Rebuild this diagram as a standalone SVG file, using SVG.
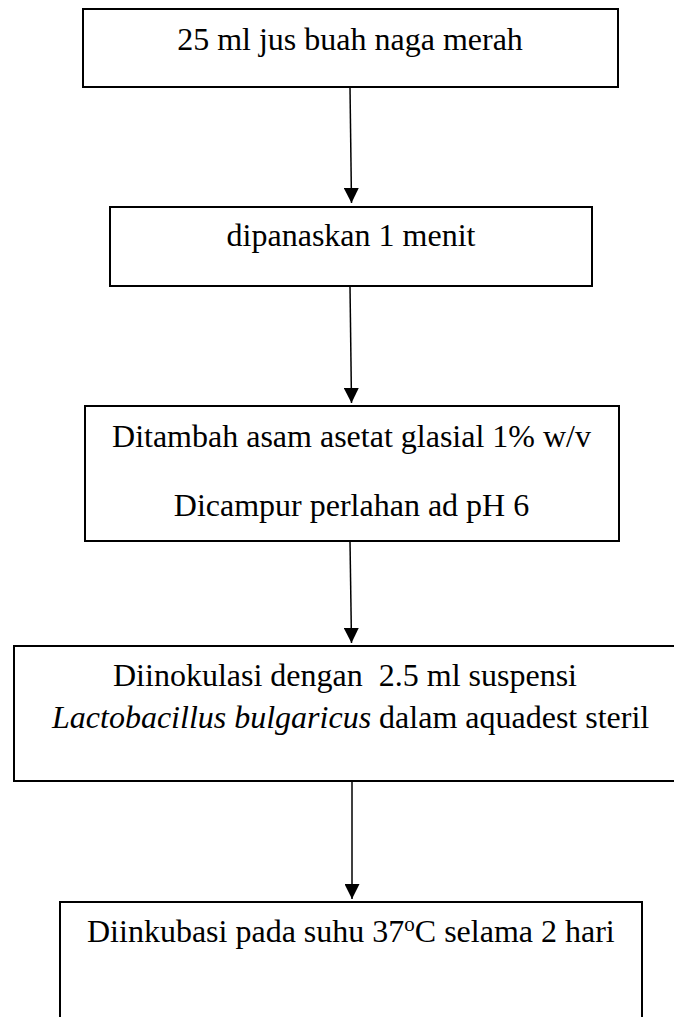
<svg xmlns="http://www.w3.org/2000/svg" width="674" height="1017" viewBox="0 0 674 1017">
<style>
.box{fill:#fff;stroke:#000;stroke-width:2}
.t{font-family:"Liberation Serif","Times New Roman",serif;font-size:32px;fill:#000}
.c{text-anchor:middle}
.con{stroke:#000;stroke-width:1.5;fill:none}
</style>
<defs>
<marker id="ah" markerWidth="16" markerHeight="15" refX="15" refY="7.5" orient="auto" markerUnits="userSpaceOnUse">
<path d="M0,0 L15,7.5 L0,15 Z" fill="#000"/>
</marker>
</defs>
<rect width="674" height="1017" fill="#fff"/>
<g id="connectors">
<line class="con" x1="350" y1="87" x2="351.5" y2="203" marker-end="url(#ah)"/>
<line class="con" x1="350" y1="286" x2="351.5" y2="403" marker-end="url(#ah)"/>
<line class="con" x1="350" y1="541" x2="351.5" y2="643" marker-end="url(#ah)"/>
<line class="con" x1="352" y1="781" x2="352" y2="899" marker-end="url(#ah)"/>
</g>
<g id="n1">
<rect class="box" x="83" y="9" width="535" height="78"/>
<text class="t c" x="350" y="50">25 ml jus buah naga merah</text>
</g>
<g id="n2">
<rect class="box" x="110" y="207" width="482" height="79"/>
<text class="t c" x="351" y="246">dipanaskan 1 menit</text>
</g>
<g id="n3">
<rect class="box" x="85" y="406" width="534" height="135"/>
<text class="t c" x="351.5" y="447">Ditambah asam asetat glasial 1% w/v</text>
<text class="t c" x="351.5" y="516">Dicampur perlahan ad pH 6</text>
</g>
<g id="n4">
<rect class="box" x="14" y="646" width="664" height="135"/>
<text class="t" x="113" y="686" xml:space="preserve">Diinokulasi dengan  2.5 ml suspensi</text>
<text class="t" x="52" y="728"><tspan font-style="italic">Lactobacillus bulgaricus</tspan> dalam aquadest steril</text>
</g>
<g id="n5">
<rect class="box" x="60" y="902" width="582" height="130"/>
<text class="t" x="87" y="942">Diinkubasi pada suhu 37<tspan font-size="21" dy="-11">o</tspan><tspan dy="11">C selama 2 hari</tspan></text>
</g>
</svg>
